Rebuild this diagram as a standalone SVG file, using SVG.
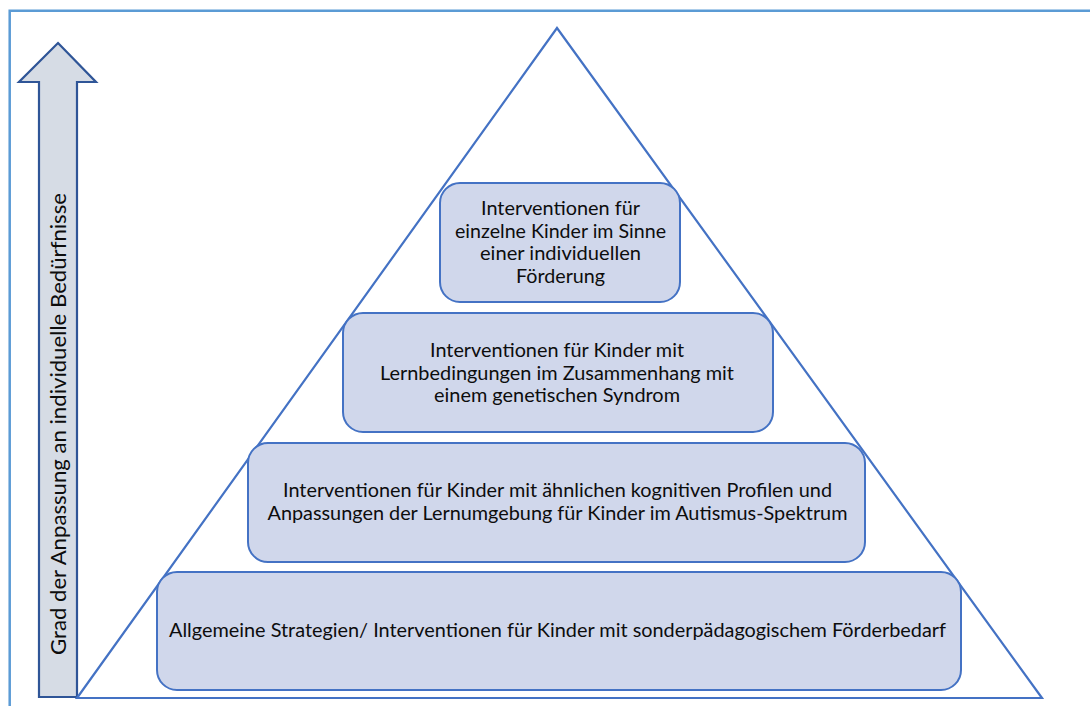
<svg xmlns="http://www.w3.org/2000/svg" width="1090" height="706" viewBox="0 0 1090 706">
<style>
.frame{fill:none;stroke:#5b9bd5;stroke-width:2.5}
.tri{fill:none;stroke:#4472c4;stroke-width:2.2;stroke-linejoin:miter}
.box{fill:#d0d7eb;stroke:#4472c4;stroke-width:2}
.arrow{fill:#d6dce5;stroke:#2f5597;stroke-width:2.2}
.t{font-family:Lato,"Open Sans","Liberation Sans",sans-serif;font-size:19.5px;fill:#0d0d0d;text-anchor:middle}
.v{font-family:Lato,"Open Sans","Liberation Sans",sans-serif;font-size:22px;fill:#0d0d0d;text-anchor:middle}
</style>
<rect width="1090" height="706" fill="#ffffff"/>
<path class="frame" d="M9.7,706 V10.7 H1090"/>
<g id="arrow">
<polygon class="arrow" points="58,43 96,82 77,82 77,697 39,697 39,82 19,82"/>
<text class="v" transform="translate(66,424) rotate(-90)" textLength="462" lengthAdjust="spacingAndGlyphs">Grad der Anpassung an individuelle Bedürfnisse</text>
</g>
<g id="pyramid">
<polygon class="tri" points="557,28 1042,698 77,698"/>
</g>
<g id="level4">
<rect class="box" x="157" y="572" width="804" height="118" rx="20"/>
<text class="t" x="557.5" y="637" textLength="777" lengthAdjust="spacingAndGlyphs">Allgemeine Strategien/ Interventionen für Kinder mit sonderpädagogischem Förderbedarf</text>
</g>
<g id="level3">
<rect class="box" x="248" y="443" width="617" height="119" rx="20"/>
<text class="t" x="557.5" y="497" textLength="549" lengthAdjust="spacingAndGlyphs">Interventionen für Kinder mit ähnlichen kognitiven Profilen und</text>
<text class="t" x="557.5" y="520" textLength="580" lengthAdjust="spacingAndGlyphs">Anpassungen der Lernumgebung für Kinder im Autismus-Spektrum</text>
</g>
<g id="level2">
<rect class="box" x="343" y="313" width="430" height="119" rx="20"/>
<text class="t" x="557" y="357" textLength="254" lengthAdjust="spacingAndGlyphs">Interventionen für Kinder mit</text>
<text class="t" x="557" y="379.5" textLength="354" lengthAdjust="spacingAndGlyphs">Lernbedingungen im Zusammenhang mit</text>
<text class="t" x="557" y="402" textLength="246" lengthAdjust="spacingAndGlyphs">einem genetischen Syndrom</text>
</g>
<g id="level1">
<rect class="box" x="440" y="183" width="240" height="119" rx="20"/>
<text class="t" x="560.5" y="215" textLength="159" lengthAdjust="spacingAndGlyphs">Interventionen für</text>
<text class="t" x="560.5" y="237.7" textLength="211" lengthAdjust="spacingAndGlyphs">einzelne Kinder im Sinne</text>
<text class="t" x="560.5" y="260.4" textLength="161" lengthAdjust="spacingAndGlyphs">einer individuellen</text>
<text class="t" x="560.5" y="283" textLength="89" lengthAdjust="spacingAndGlyphs">Förderung</text>
</g>
</svg>
